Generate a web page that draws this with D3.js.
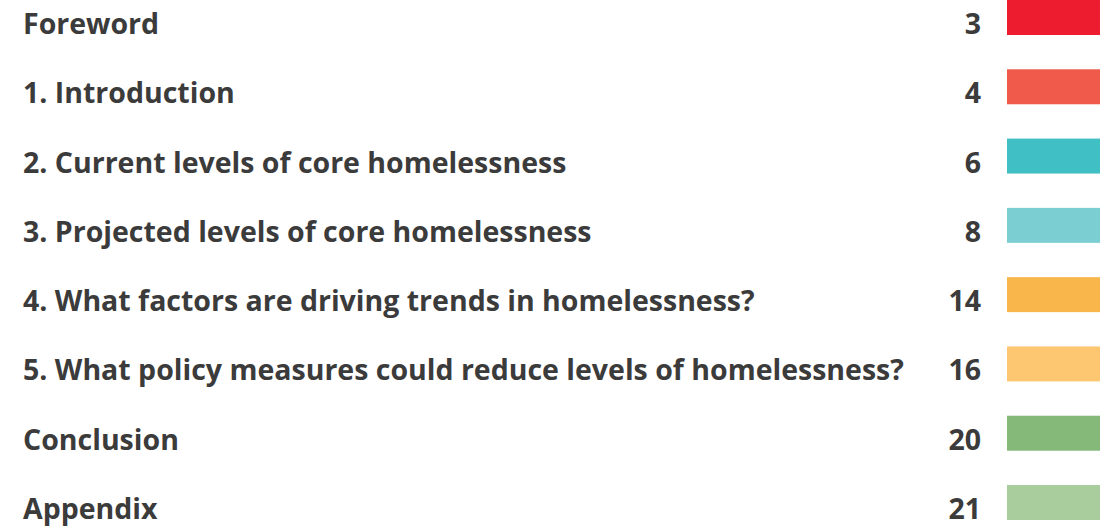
<!DOCTYPE html>
<html lang="en">
<head>
    <meta charset="UTF-8">
    <title>Contents</title>
    <script src="https://d3js.org/d3.v7.min.js"></script>
    <style>
        body, html { margin: 0; padding: 0; background: #fff; overflow: hidden; }
        .label, .page { font-family: "Open Sans", Lato, sans-serif; font-weight: 700; fill: #3b3b3b; }
    </style>
</head>
<body>
    <div id="chart"></div>
    <script>
    const sections = [
        "Foreword",
        "1. Introduction",
        "2. Current levels of core homelessness",
        "3. Projected levels of core homelessness",
        "4. What factors are driving trends in homelessness?",
        "5. What policy measures could reduce levels of homelessness?",
        "Conclusion",
        "Appendix"
    ];
    const pages = [3, 4, 6, 8, 14, 16, 20, 21];
    const colours = ["#ed1c2e", "#ef5a4a", "#40bfc4", "#7bcfd2", "#f9b64b", "#fdc772", "#84b979", "#aacd9e"];

    const width = 1100, height = 526;

    const svg = d3.select("#chart").append("svg")
        .attr("width", width)
        .attr("height", height);

    const y = d3.scaleBand()
        .domain(sections)
        .range([0, 520])
        .paddingInner(0.495)
        .paddingOuter(0);

    const x = d3.scaleLinear().domain([0, 1]).range([1007, 1100]);

    const rows = svg.selectAll(".row")
        .data(sections)
        .enter().append("g")
        .attr("class", "row")
        .attr("transform", d => `translate(0,${y(d)})`);

    rows.append("rect")
        .attr("x", x(0))
        .attr("width", x(1) - x(0))
        .attr("height", y.bandwidth())
        .attr("fill", (d, i) => colours[i]);

    rows.append("text")
        .attr("class", "label")
        .attr("x", 23)
        .attr("y", y.bandwidth() - 1)
        .style("font-size", "28.5px")
        .text(d => d);

    rows.append("text")
        .attr("class", "page")
        .attr("x", 981)
        .attr("y", y.bandwidth() - 1)
        .attr("text-anchor", "end")
        .style("font-size", "28.5px")
        .text((d, i) => pages[i]);
    </script>
</body>
</html>
